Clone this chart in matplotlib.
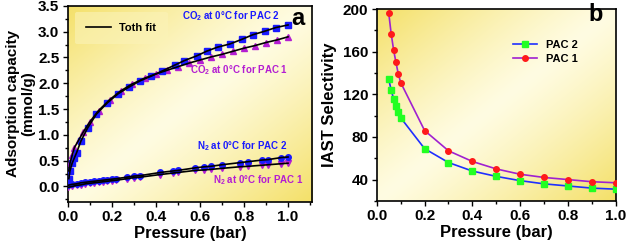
import numpy as np
import matplotlib
matplotlib.use('Agg')
import matplotlib.pyplot as plt
from matplotlib.ticker import MultipleLocator

plt.rcParams['font.family'] = ['Liberation Sans', 'DejaVu Sans']
plt.rcParams['font.weight'] = 'bold'
plt.rcParams['axes.labelweight'] = 'bold'
plt.rcParams['mathtext.fontset'] = 'custom'
plt.rcParams['mathtext.rm'] = 'Liberation Sans:bold'
plt.rcParams['mathtext.bf'] = 'Liberation Sans:bold'
plt.rcParams['mathtext.default'] = 'bf'

# panel a: CO2 / N2 isotherms at 0 C
co2_p2_x = [0.005, 0.01, 0.02, 0.03, 0.04, 0.06, 0.09, 0.13, 0.18, 0.23, 0.28, 0.33, 0.38,
            0.43, 0.485, 0.53, 0.585, 0.63, 0.68, 0.735, 0.79, 0.84, 0.895, 0.945, 1.0]
co2_p2_y = [0.15, 0.3, 0.45, 0.55, 0.65, 0.88, 1.13, 1.40, 1.62, 1.80, 1.93, 2.05, 2.14,
            2.24, 2.35, 2.44, 2.53, 2.62, 2.70, 2.76, 2.85, 2.94, 3.01, 3.08, 3.13]
co2_p1_x = [0.005, 0.01, 0.02, 0.03, 0.05, 0.07, 0.10, 0.14, 0.19, 0.24, 0.29, 0.35, 0.40,
            0.45, 0.50, 0.55, 0.60, 0.65, 0.70, 0.75, 0.80, 0.85, 0.90, 0.95, 1.0]
co2_p1_y = [0.30, 0.45, 0.60, 0.75, 0.90, 1.05, 1.25, 1.47, 1.68, 1.85, 1.98, 2.10, 2.18,
            2.25, 2.32, 2.39, 2.45, 2.51, 2.56, 2.62, 2.68, 2.73, 2.79, 2.84, 2.90]
n2_p2_x = [0.0, 0.02, 0.04, 0.06, 0.08, 0.10, 0.12, 0.14, 0.16, 0.18, 0.20, 0.22, 0.27, 0.30,
           0.33, 0.42, 0.48, 0.50, 0.58, 0.62, 0.65, 0.70, 0.78, 0.82, 0.88, 0.91, 0.97, 1.0]
n2_p2_y = [0.02, 0.04, 0.05, 0.07, 0.08, 0.09, 0.10, 0.11, 0.12, 0.13, 0.14, 0.15, 0.18, 0.20,
           0.21, 0.27, 0.30, 0.31, 0.36, 0.38, 0.39, 0.42, 0.46, 0.48, 0.51, 0.52, 0.56, 0.57]
n2_p1_x = [0.0, 0.02, 0.04, 0.06, 0.08, 0.10, 0.12, 0.14, 0.16, 0.18, 0.20, 0.22, 0.27, 0.30,
           0.33, 0.42, 0.48, 0.50, 0.58, 0.62, 0.65, 0.70, 0.78, 0.82, 0.88, 0.91, 0.97, 1.0]
n2_p1_y = [-0.02, 0.0, 0.02, 0.03, 0.05, 0.06, 0.07, 0.08, 0.09, 0.10, 0.11, 0.12, 0.15, 0.17,
           0.18, 0.23, 0.26, 0.27, 0.31, 0.32, 0.33, 0.35, 0.38, 0.39, 0.41, 0.42, 0.44, 0.45]

# panel b: IAST selectivity
p_b = [0.05, 0.06, 0.07, 0.08, 0.09, 0.1, 0.2, 0.3, 0.4, 0.5, 0.6, 0.7, 0.8, 0.9, 1.0]
sel_pac2 = [134, 124, 116, 109, 103, 98, 69, 56, 48, 43, 39, 36, 34, 32, 31]
sel_pac1 = [196, 177, 162, 150, 139, 131, 86, 67, 57, 50, 45, 42, 40, 38, 37]

blue = '#1a1aff'
mag = '#b41ed2'


def yellow_bg(ax):
    xx, yy = np.meshgrid(np.linspace(0, 1, 200), np.linspace(1, 0, 200))
    d = (xx + (1 - yy)) / 2.0
    t = np.abs(2 * d - 1) ** 1.2
    dark = np.array([244, 224, 104]) / 255.0
    light = np.array([255, 252, 226]) / 255.0
    img = light + (dark - light) * t[..., None]
    ax.imshow(img, extent=[0, 1, 0, 1], transform=ax.transAxes, aspect='auto', zorder=0)


def style(ax):
    ax.tick_params(which='major', direction='out', length=3.5, width=1, labelsize=11, pad=2.5)
    ax.tick_params(which='minor', direction='out', length=2, width=1)
    for s in ax.spines.values():
        s.set_linewidth(1.2)
    for lab in ax.get_xticklabels() + ax.get_yticklabels():
        lab.set_fontweight('bold')


fig = plt.figure(figsize=(6.27, 2.45), dpi=100)
ax1 = fig.add_axes([0.108, 0.176, 0.39, 0.80])
ax2 = fig.add_axes([0.601, 0.18, 0.381, 0.783])

yellow_bg(ax1)
ax1.plot(co2_p1_x, co2_p1_y, '^', color=mag, ms=4.5, zorder=3)
ax1.plot(co2_p2_x, co2_p2_y, 's', color=blue, ms=4, zorder=3)
ax1.plot(n2_p1_x, n2_p1_y, 'v', color=mag, ms=4.5, zorder=3)
ax1.plot(n2_p2_x, n2_p2_y, 'o', color=blue, ms=4, zorder=3)
for xs, ys in [(co2_p1_x, co2_p1_y), (co2_p2_x, co2_p2_y), (n2_p1_x, n2_p1_y), (n2_p2_x, n2_p2_y)]:
    ax1.plot(xs, ys, '-', color='black', lw=1.2, zorder=4)
ax1.set_xlim(0, 1.11)
ax1.set_ylim(-0.3, 3.5)
ax1.xaxis.set_major_locator(MultipleLocator(0.2))
ax1.xaxis.set_minor_locator(MultipleLocator(0.1))
ax1.yaxis.set_major_locator(MultipleLocator(0.5))
ax1.yaxis.set_minor_locator(MultipleLocator(0.25))
ax1.set_xlabel('Pressure (bar)', fontsize=12, labelpad=1)
ax1.set_ylabel('Adsorption capacity\n(mmol/g)', fontsize=11, labelpad=2, linespacing=1.1)
style(ax1)

leg = ax1.legend([plt.Line2D([], [], color='black', lw=1.2)], ['Toth fit'],
                 loc='upper left', bbox_to_anchor=(0.03, 0.97), frameon=True,
                 handlelength=2.2, fontsize=8, borderpad=1.0, borderaxespad=0)
leg.get_frame().set_facecolor('#fbf3b8')
leg.get_frame().set_edgecolor('none')
leg.get_frame().set_alpha(0.6)
for t in leg.get_texts():
    t.set_fontweight('bold')

ax1.text(0.52, 3.31, 'CO$_2$ at 0°C for PAC 2', color=blue, fontsize=7, fontweight='bold', va='center')
ax1.text(0.555, 2.25, 'CO$_2$ at 0°C for PAC 1', color=mag, fontsize=7, fontweight='bold', va='center')
ax1.text(0.585, 0.79, 'N$_2$ at 0°C for PAC 2', color=blue, fontsize=7, fontweight='bold', va='center')
ax1.text(0.66, 0.12, 'N$_2$ at 0°C for PAC 1', color=mag, fontsize=7, fontweight='bold', va='center')
ax1.text(1.045, 3.25, 'a', fontsize=17, fontweight='bold', ha='center', va='center')

yellow_bg(ax2)
ax2.plot(p_b, sel_pac2, '-s', color='#1f2fff', mfc='#22ff22', mec='#22ff22', ms=4, lw=1.2,
         label='PAC 2', zorder=3)
ax2.plot(p_b, sel_pac1, '-o', color='#a020d0', mfc='#ff1a1a', mec='#ff1a1a', ms=4, lw=1.2,
         label='PAC 1', zorder=3)
ax2.set_xlim(0, 1.0)
ax2.set_ylim(20, 200)
ax2.xaxis.set_major_locator(MultipleLocator(0.2))
ax2.xaxis.set_minor_locator(MultipleLocator(0.1))
ax2.yaxis.set_minor_locator(MultipleLocator(20))
ax2.set_yticks([40, 80, 120, 160, 200])
ax2.set_xlabel('Pressure (bar)', fontsize=12, labelpad=1)
ax2.set_ylabel('IAST Selectivity', fontsize=12, labelpad=4)
style(ax2)
leg2 = ax2.legend(loc='upper left', bbox_to_anchor=(0.55, 0.86), frameon=False, fontsize=8,
                  handlelength=2.2, borderaxespad=0, labelspacing=0.3)
for t in leg2.get_texts():
    t.set_fontweight('bold')
ax2.text(0.915, 195, 'b', fontsize=17, fontweight='bold', ha='center', va='center')

fig.savefig('out.png', dpi=100)
